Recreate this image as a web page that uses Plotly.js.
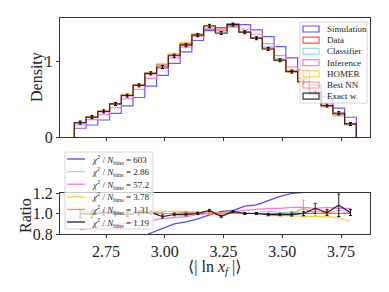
<!DOCTYPE html>
<html><head><meta charset="utf-8">
<script src="https://cdn.plot.ly/plotly-3.0.1.min.js"></script>
<style>html,body{margin:0;padding:0;background:#fff}#plot{width:389px;height:292px}</style>
</head><body><div id="plot"></div>
<script>
// ---- data ----
const binEdges = [2.615,2.665,2.715,2.765,2.815,2.865,2.915,2.965,3.015,3.065,3.115,3.165,3.215,3.265,3.315,3.365,3.415,3.465,3.515,3.565,3.615,3.665,3.715,3.765,3.815];
const binCenters = [2.64,2.69,2.74,2.79,2.84,2.89,2.94,2.99,3.04,3.09,3.14,3.19,3.24,3.29,3.34,3.39,3.44,3.49,3.54,3.59,3.64,3.69,3.74,3.79];
const dataDensity = [0.19,0.265,0.335,0.435,0.55,0.68,0.83,0.95,1.08,1.22,1.34,1.42,1.41,1.45,1.38,1.30,1.17,1.02,0.87,0.73,0.56,0.41,0.29,0.17];
const simDensity  = [0.115,0.158,0.224,0.31,0.41,0.52,0.67,0.81,0.97,1.12,1.27,1.40,1.44,1.49,1.48,1.41,1.32,1.19,1.04,0.88,0.68,0.53,0.38,0.26];
const classifierRatio = [1.02,1.01,1.0,1.01,1.0,1.0,1.01,1.0,1.0,1.01,1.0,1.0,1.0,1.01,1.0,1.01,1.02,1.01,1.01,1.01,1.02,1.01,1.03,1.02];
const inferenceRatio  = [0.84,0.86,0.88,0.89,0.91,0.92,0.93,0.95,0.96,0.97,0.99,1.0,1.01,1.02,1.03,1.04,1.05,1.05,1.06,1.06,1.05,1.06,1.05,1.05];
const homerRatio      = [1.0,1.01,1.02,1.01,1.02,1.01,1.02,1.02,1.02,1.02,1.01,1.02,1.0,1.01,1.0,1.0,0.99,0.98,0.98,0.97,0.97,0.97,0.96,0.92];
const bestnnRatio     = [0.99,1.0,1.01,1.0,1.0,1.01,1.01,1.0,1.0,1.01,1.01,1.0,0.99,1.01,1.0,1.0,0.99,0.99,1.0,1.05,1.0,1.01,1.0,1.01];
const bestnnErr       = [0.03,0.03,0.02,0.02,0.02,0.015,0.01,0.01,0.01,0.01,0.01,0.01,0.01,0.01,0.01,0.01,0.01,0.01,0.02,0.08,0.02,0.02,0.03,0.03];
const exactRatio      = [1.0,0.99,1.01,1.0,0.99,1.0,1.01,0.97,0.99,0.99,1.0,1.03,0.97,1.02,1.0,1.0,0.99,0.99,0.99,1.0,1.05,1.01,1.08,1.01];
const exactErr        = [0.04,0.035,0.03,0.025,0.02,0.02,0.015,0.015,0.012,0.012,0.01,0.01,0.01,0.01,0.01,0.01,0.012,0.012,0.015,0.02,0.05,0.03,0.11,0.03];
const densityErr      = [0.02,0.02,0.02,0.02,0.02,0.02,0.02,0.02,0.02,0.02,0.02,0.02,0.02,0.02,0.02,0.02,0.02,0.02,0.02,0.02,0.02,0.02,0.02,0.02];
const topLabels = ['Simulation','Data','Classifier','Inference','HOMER','Best NN','Exact w.'];
const chi2Labels = ['603','2.86','57.2','3.78','1.31','1.19'];
const xTickVals = [2.75,3.0,3.25,3.5,3.75];
const xTickText = ['2.75','3.00','3.25','3.50','3.75'];

// ---- styles ----
const C = {sim:'#2a2aff', data:'#ff2a2a', cls:'#87cefa', inf:'#ff5ad8', hom:'#ffc820', bnn:'#ff7f50', ex:'#000000'};
const FONT = 'Liberation Serif, DejaVu Serif, serif';
const W = 389, H = 292;
const px = x => x / W, py = y => 1 - y / H;

const times = (a, r) => a.map((v, i) => v * r[i]);
const divide = (a, b) => a.map((v, i) => v / b[i]);
function stepXY(vals) {
  const x = [binEdges[0]], y = [0];
  vals.forEach((v, i) => { x.push(binEdges[i], binEdges[i + 1]); y.push(v, v); });
  x.push(binEdges[binEdges.length - 1]); y.push(0);
  return {x, y};
}
const topSeries = [
  [simDensity, C.sim],
  [dataDensity, C.data],
  [times(dataDensity, classifierRatio), C.cls],
  [times(dataDensity, inferenceRatio), C.inf],
  [times(dataDensity, homerRatio), C.hom],
  [times(dataDensity, bestnnRatio), C.bnn],
  [times(dataDensity, exactRatio), C.ex]
];
const traces = [];
topSeries.forEach(([vals, col]) => {
  const s = stepXY(vals);
  traces.push({x: s.x, y: s.y, type: 'scatter', mode: 'lines', xaxis: 'x', yaxis: 'y',
    line: {color: col, width: 1.2}, opacity: 0.75, showlegend: false, hoverinfo: 'skip'});
});
traces.push({x: binCenters, y: times(dataDensity, exactRatio), type: 'scatter', mode: 'none', xaxis: 'x', yaxis: 'y',
  error_y: {type: 'data', array: densityErr, color: '#000', thickness: 1, width: 1.5}, showlegend: false});

const ratioSeries = [
  [divide(simDensity, dataDensity), C.sim, null],
  [divide(dataDensity, dataDensity), C.data, null],
  [classifierRatio, C.cls, null],
  [inferenceRatio, C.inf, null],
  [homerRatio, C.hom, null],
  [bestnnRatio, C.bnn, bestnnErr],
  [exactRatio, C.ex, exactErr]
];
ratioSeries.forEach(([vals, col, err]) => {
  const t = {x: binCenters, y: vals, type: 'scatter', mode: 'lines', xaxis: 'x2', yaxis: 'y2',
    line: {color: col, width: 1.2}, opacity: 0.85, showlegend: false, hoverinfo: 'skip'};
  if (err) t.error_y = {type: 'data', array: err, color: col, thickness: 1, width: 1.5};
  traces.push(t);
});

// ---- legends drawn as shapes/annotations ----
const shapes = [], annotations = [];
// top legend
shapes.push({type: 'rect', xref: 'paper', yref: 'paper', x0: px(300), x1: px(367), y0: py(22), y1: py(103),
  fillcolor: 'rgba(255,255,255,0.75)', line: {color: '#d6d6d6', width: 1}, layer: 'above'});
const topCols = [C.sim, C.data, C.cls, C.inf, C.hom, C.bnn, C.ex];
topLabels.forEach((lab, i) => {
  const yc = 29 + 11.2 * i;
  shapes.push({type: 'rect', xref: 'paper', yref: 'paper', x0: px(303), x1: px(319), y0: py(yc + 3), y1: py(yc - 3),
    line: {color: topCols[i], width: 1.2}, opacity: 0.8, layer: 'above'});
  annotations.push({xref: 'paper', yref: 'paper', x: px(325), y: py(yc), xanchor: 'left', yanchor: 'middle',
    text: lab, showarrow: false, font: {family: FONT, size: 9, color: '#222'}});
});
// bottom legend
shapes.push({type: 'rect', xref: 'paper', yref: 'paper', x0: px(65), x1: px(153), y0: py(152), y1: py(229),
  fillcolor: 'rgba(255,255,255,0.75)', line: {color: '#d6d6d6', width: 1}, layer: 'above'});
const botCols = [C.sim, C.cls, C.inf, C.hom, C.bnn, C.ex];
chi2Labels.forEach((lab, i) => {
  const yc = 159 + 12.6 * i;
  shapes.push({type: 'line', xref: 'paper', yref: 'paper', x0: px(67), x1: px(85), y0: py(yc), y1: py(yc),
    line: {color: botCols[i], width: 1.3}, opacity: 0.85, layer: 'above'});
  annotations.push({xref: 'paper', yref: 'paper', x: px(90), y: py(yc), xanchor: 'left', yanchor: 'middle',
    text: '<i>χ</i><sup>2</sup> / <i>N</i><sub>bins</sub> = ' + lab, showarrow: false,
    font: {family: FONT, size: 9, color: '#222'}});
});
// axis titles
annotations.push({xref: 'paper', yref: 'paper', x: px(37), y: py(77), xanchor: 'center', yanchor: 'middle',
  text: 'Density', textangle: -90, showarrow: false, font: {family: FONT, size: 16, color: '#222'}});
annotations.push({xref: 'paper', yref: 'paper', x: px(25), y: py(216), xanchor: 'center', yanchor: 'middle',
  text: 'Ratio', textangle: -90, showarrow: false, font: {family: FONT, size: 16, color: '#222'}});
annotations.push({xref: 'paper', yref: 'paper', x: px(215), y: py(267), xanchor: 'center', yanchor: 'middle',
  text: '⟨| ln <i>x</i><sub><i>f</i></sub> |⟩', showarrow: false, font: {family: FONT, size: 16, color: '#222'}});

const axisCommon = {showgrid: false, zeroline: false, showline: true, mirror: true, linecolor: '#333', linewidth: 1,
  ticks: 'outside', ticklen: 3, tickcolor: '#333', tickwidth: 1, tickfont: {family: FONT, size: 16, color: '#222'}};
const xr = [2.554, 3.873];
const layout = {
  width: W, height: H, margin: {l: 0, r: 0, t: 0, b: 0}, paper_bgcolor: '#fff', plot_bgcolor: '#fff',
  showlegend: false,
  xaxis: Object.assign({}, axisCommon, {domain: [px(60), px(370)], range: xr, anchor: 'y',
    tickvals: xTickVals, showticklabels: false}),
  yaxis: Object.assign({}, axisCommon, {domain: [py(137), py(18)], range: [0, 1.566], anchor: 'x',
    tickvals: [0, 1], ticktext: ['0', '1']}),
  xaxis2: Object.assign({}, axisCommon, {domain: [px(60), px(370)], range: xr, anchor: 'y2',
    tickvals: xTickVals, ticktext: xTickText}),
  yaxis2: Object.assign({}, axisCommon, {domain: [py(234), py(193)], range: [0.8, 1.2], anchor: 'x2',
    tickvals: [0.8, 1.0, 1.2], ticktext: ['0.8', '1.0', '1.2']}),
  shapes, annotations
};
Plotly.newPlot('plot', traces, layout, {staticPlot: true, displayModeBar: false});
</script></body></html>
